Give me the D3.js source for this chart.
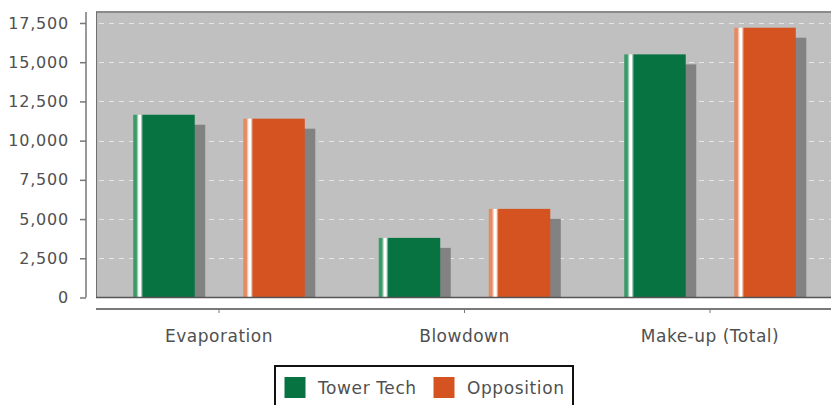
<!DOCTYPE html>
<html><head><meta charset="utf-8">
<script src="https://cdn.jsdelivr.net/npm/d3@7/dist/d3.min.js"></script>
<style>
html,body{margin:0;padding:0;background:#fff;}
svg{display:block;font-family:"DejaVu Sans",Verdana,sans-serif;}
</style></head>
<body>
<svg id="chart" width="831" height="405"></svg>
<script>
const categories = ["Evaporation", "Blowdown", "Make-up (Total)"];
const seriesNames = ["Tower Tech", "Opposition"];
const towerTech = [11650, 3800, 15500];
const opposition = [11400, 5650, 17200];
const yTicks = [0, 2500, 5000, 7500, 10000, 12500, 15000, 17500];
const seriesColors = ["#077340", "#d45321"];
const stripeColors = ["#3a9a68", "#e58a62"];

const svg = d3.select("#chart");
const plot = {left: 96, right: 833, top: 12, bottom: 297.5};
const textColor = "#505050";

const x = d3.scaleBand().domain(categories).range([96.25, 832.75]).paddingInner(0).paddingOuter(0);
const xs = d3.scaleBand().domain(seriesNames).range([0, x.bandwidth()]).paddingInner(0.441).paddingOuter(0.336);
const y = d3.scaleLinear().domain([0, 18200]).range([plot.bottom, plot.top]);

// gradients
const defs = svg.append("defs");
seriesNames.forEach((s, i) => {
  const g = defs.append("linearGradient").attr("id", "grad" + i).attr("x1", "0").attr("x2", "1").attr("y1", "0").attr("y2", "0");
  g.append("stop").attr("offset", "0%").attr("stop-color", stripeColors[i]);
  g.append("stop").attr("offset", "5%").attr("stop-color", stripeColors[i]);
  g.append("stop").attr("offset", "9%").attr("stop-color", "#ffffff");
  g.append("stop").attr("offset", "12%").attr("stop-color", "#ffffff");
  g.append("stop").attr("offset", "16%").attr("stop-color", seriesColors[i]);
  g.append("stop").attr("offset", "100%").attr("stop-color", seriesColors[i]);
});

// plot background
svg.append("rect").attr("x", plot.left).attr("y", plot.top)
  .attr("width", 760).attr("height", plot.bottom - plot.top)
  .attr("fill", "#c0c0c0");

// gridlines
svg.append("g").selectAll("line").data(yTicks.filter(d => d > 0)).join("line")
  .attr("x1", plot.left + 3).attr("x2", 840)
  .attr("y1", d => Math.round(y(d)) + 0.5).attr("y2", d => Math.round(y(d)) + 0.5)
  .attr("stroke", "#e6e6e6").attr("stroke-width", 1).attr("stroke-dasharray", "5,5");

// bars
const data = categories.map((c, i) => ({cat: c, vals: [towerTech[i], opposition[i]]}));
const groups = svg.append("g").selectAll("g").data(data).join("g")
  .attr("transform", d => `translate(${x(d.cat)},0)`);
const items = d => d.vals.map((v, i) => ({v, i, s: seriesNames[i]}));
groups.selectAll("rect.shadow").data(items).join("rect").attr("class", "shadow")
  .attr("x", d => xs(d.s) + 10.5).attr("y", d => y(d.v) + 10)
  .attr("width", xs.bandwidth()).attr("height", d => plot.bottom - y(d.v) - 10)
  .attr("fill", "#828282");
groups.selectAll("rect.bar").data(items).join("rect").attr("class", "bar")
  .attr("x", d => xs(d.s)).attr("y", d => y(d.v))
  .attr("width", xs.bandwidth()).attr("height", d => plot.bottom - y(d.v))
  .attr("fill", d => `url(#grad${d.i})`);

// plot border
svg.append("line").attr("x1", plot.left).attr("x2", 840).attr("y1", plot.top).attr("y2", plot.top)
  .attr("stroke", "#8a8a8a").attr("stroke-width", 2);
svg.append("line").attr("x1", plot.left + 0.5).attr("x2", plot.left + 0.5).attr("y1", plot.top).attr("y2", plot.bottom)
  .attr("stroke", "#707070").attr("stroke-width", 1);
svg.append("line").attr("x1", plot.left).attr("x2", 840).attr("y1", plot.bottom).attr("y2", plot.bottom)
  .attr("stroke", "#555", ).attr("stroke-width", 1.5);

// y axis
const yAxis = svg.append("g").attr("transform", "translate(86,0)")
  .call(d3.axisLeft(y).tickValues(yTicks).tickFormat(d3.format(",")).tickSize(6).tickSizeOuter(0).tickPadding(11));
yAxis.select(".domain").attr("stroke", "#777").attr("stroke-width", 1.5)
  .attr("d", `M0,${plot.top}V${plot.bottom}`);
yAxis.selectAll(".tick line").attr("stroke", "#777").attr("stroke-width", 1.5);
yAxis.selectAll(".tick text").attr("font-size", 16).attr("fill", textColor)
  .attr("font-family", "DejaVu Sans").attr("letter-spacing", "0.8px");

// x axis
const xAxis = svg.append("g").attr("transform", "translate(0,309)")
  .call(d3.axisBottom(x).tickSize(4).tickSizeOuter(0).tickPadding(17));
xAxis.select(".domain").attr("stroke", "#7a7a7a").attr("stroke-width", 2).attr("d", "M96,0H840");
xAxis.selectAll(".tick line").attr("stroke", "#777").attr("stroke-width", 1);
xAxis.selectAll(".tick text").attr("font-size", 17).attr("fill", textColor)
  .attr("font-family", "DejaVu Sans").attr("letter-spacing", "0.5px");

// legend
const lg = svg.append("g");
lg.append("rect").attr("x", 275).attr("y", 366).attr("width", 298).attr("height", 60)
  .attr("fill", "#fff").attr("stroke", "#111").attr("stroke-width", 2);
const legendX = [284.5, 433.5];
seriesNames.forEach((s, i) => {
  lg.append("rect").attr("x", legendX[i]).attr("y", 377).attr("width", 21).attr("height", 21)
    .attr("fill", seriesColors[i]);
  lg.append("text").attr("x", legendX[i] + 33.5).attr("y", 388).attr("dy", "0.35em")
    .attr("font-size", 17).attr("fill", textColor).attr("letter-spacing", "0.6px").text(s);
});
</script>
</body></html>
